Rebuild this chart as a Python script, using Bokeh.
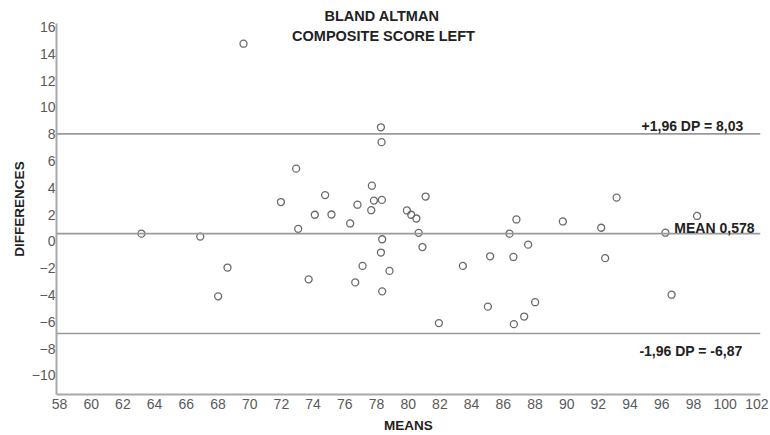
from bokeh.plotting import figure
from bokeh.models import Span, Label, FixedTicker, ColumnDataSource, Title
from bokeh.embed import file_html
from bokeh.resources import INLINE

# ---- data ----
means = [69.61, 63.17, 66.88, 68.60, 68.01, 71.97, 73.06, 72.93, 78.28, 78.32,
         77.71, 74.76, 76.80, 77.84, 78.34, 77.67, 81.10, 74.11, 75.16, 79.92,
         80.19, 80.52, 76.34, 80.66, 78.36, 80.90, 78.28, 77.12, 78.82, 73.72,
         76.66, 78.36, 81.94, 83.45, 85.03, 85.17, 86.39, 86.83, 86.64, 87.57,
         88.01, 87.32, 86.67, 89.76, 93.15, 92.18, 92.43, 96.23, 98.23, 96.62]
differences = [14.76, 0.58, 0.36, -1.95, -4.10, 2.94, 0.94, 5.43, 8.52, 7.41,
               4.16, 3.46, 2.74, 3.05, 3.10, 2.33, 3.35, 1.99, 2.01, 2.31,
               1.99, 1.71, 1.34, 0.64, 0.16, -0.42, -0.83, -1.83, -2.20, -2.83,
               -3.06, -3.73, -6.10, -1.83, -4.87, -1.11, 0.58, 1.64, -1.16, -0.24,
               -4.54, -5.61, -6.18, 1.49, 3.27, 1.02, -1.25, 0.65, 1.90, -3.98]
mean_diff = 0.578
upper_loa = 8.03
lower_loa = -6.87
x_ticks = list(range(58, 103, 2))
y_ticks = list(range(-10, 17, 2))
title_lines = ["BLAND ALTMAN", "COMPOSITE SCORE LEFT"]
upper_text = "+1,96 DP = 8,03"
mean_text = "MEAN 0,578"
lower_text = "-1,96 DP = -6,87"

FONT = "Liberation Sans"
DARK = "#222222"

p = figure(width=770, height=435, x_range=(57.81, 102.23), y_range=(-11.43, 16.27),
           output_backend="svg", toolbar_location=None,
           min_border_left=56, min_border_right=10, min_border_top=23, min_border_bottom=39)
p.outline_line_color = None
p.grid.visible = False
p.background_fill_color = "white"

src = ColumnDataSource(dict(x=means, y=differences))
p.scatter("x", "y", source=src, size=7, fill_color=None, line_color="#6a6a6a", line_width=1.3)

for v in (upper_loa, mean_diff, lower_loa):
    p.add_layout(Span(location=v, dimension="width", line_color="#9a9a9a", line_width=1.6))

for ax in (p.xaxis[0], p.yaxis[0]):
    ax.major_tick_out = 0
    ax.major_tick_in = 0
    ax.minor_tick_out = 0
    ax.minor_tick_in = 0
    ax.axis_line_color = "#a8a8a8"
    ax.axis_line_width = 2
    ax.major_label_text_font = FONT
    ax.major_label_text_font_size = "14px"
    ax.major_label_text_color = "#5a5a5a"
    ax.axis_label_text_font = FONT
    ax.axis_label_text_font_size = "13.5px"
    ax.axis_label_text_font_style = "bold"
    ax.axis_label_text_color = DARK

p.xaxis.ticker = FixedTicker(ticks=x_ticks)
p.yaxis.ticker = FixedTicker(ticks=y_ticks)
p.xaxis.axis_label = "MEANS"
p.yaxis.axis_label = "DIFFERENCES"
p.xaxis.major_label_standoff = 4
p.xaxis.axis_label_standoff = 6
p.yaxis.major_label_standoff = 1
p.yaxis.axis_label_standoff = 2

# title line 1 (above the plot area) and line 2 (overlapping top of plot area)
p.add_layout(Title(text=title_lines[0], align="left", offset=268, standoff=0,
                   vertical_align="bottom", text_font=FONT, text_font_size="14.5px",
                   text_font_style="bold", text_color=DARK), "above")
p.add_layout(Label(x=327, y=359, x_units="screen", y_units="screen", text=title_lines[1],
                   text_align="center", text_baseline="middle", text_font=FONT,
                   text_font_size="14.5px", text_font_style="bold", text_color=DARK))

p.add_layout(Label(x=687, y=upper_loa, x_units="screen", y_units="data", y_offset=7.5,
                   text=upper_text, text_align="right", text_baseline="middle",
                   text_font=FONT, text_font_size="14px", text_font_style="bold",
                   text_color=DARK))
p.add_layout(Label(x=698, y=mean_diff, x_units="screen", y_units="data", y_offset=5.5,
                   text=mean_text, text_align="right", text_baseline="middle",
                   text_font=FONT, text_font_size="14px", text_font_style="bold",
                   text_color=DARK))
p.add_layout(Label(x=686, y=lower_loa, x_units="screen", y_units="data", y_offset=-17.5,
                   text=lower_text, text_align="right", text_baseline="middle",
                   text_font=FONT, text_font_size="14px", text_font_style="bold",
                   text_color=DARK))

open("out.html", "w").write(file_html(p, INLINE))
